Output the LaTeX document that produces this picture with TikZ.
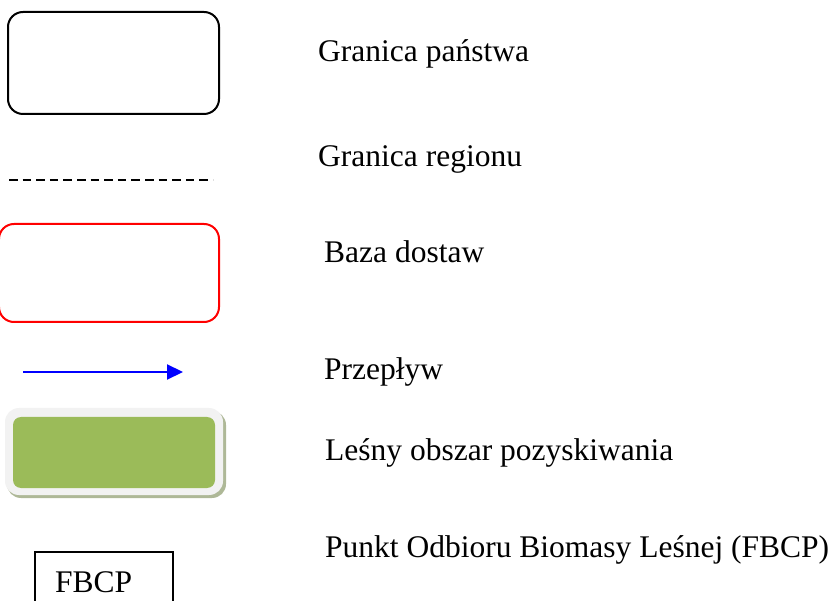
\documentclass[tikz,border=0pt]{standalone}
\usepackage{fontspec}
\setmainfont{Liberation Serif}
\usetikzlibrary{arrows.meta}
\definecolor{lesgreen}{HTML}{9BBB59}
\definecolor{lesedge}{HTML}{F2F2F2}
\definecolor{lesshadow}{HTML}{AEB897}
\begin{document}
\begin{tikzpicture}[x=1pt,y=-1pt,
  opis/.style={anchor=base west,inner sep=0pt,font=\fontsize{31.5}{36}\selectfont},
  ramka/.style={line width=2pt,rounded corners=15pt}]
\useasboundingbox (0,0) rectangle (838,601);
\clip (0,0) rectangle (838,601);
% granica panstwa
\draw[ramka] (8,12) rectangle (219,114);
\node[opis] (panstwo) at (318,62) {Granica państwa};
% granica regionu
\draw[line width=2pt,dash pattern=on 8.5pt off 5.1pt] (9,180) -- (213,180);
\node[opis] (region) at (318,167) {Granica regionu};
% baza dostaw
\draw[ramka,red] (-1,224) rectangle (219,322);
\node[opis] (baza) at (324,263) {Baza dostaw};
% przeplyw
\coordinate (start) at (23,372);
\coordinate (koniec) at (183,372);
\draw[-{Triangle[length=16pt,width=15pt]},blue,line width=2.2pt] (start) -- (koniec);
\node[opis] (przeplyw) at (324,380) {Przepływ};
% lesny obszar
\fill[lesshadow,rounded corners=14pt] (7,411) rectangle (226,498);
\fill[lesedge,rounded corners=14pt] (5,408) rectangle (223,495);
\fill[lesgreen,rounded corners=8pt] (13,417) rectangle (215,488);
\node[opis] (obszar) at (325,460) {Leśny obszar pozyskiwania};
% FBCP
\draw[line width=1.5pt] (35,552) rectangle (173,620);
\node[opis] (fbcp) at (55,592) {FBCP};
\node[opis] (punkt) at (325,557) {Punkt Odbioru Biomasy Leśnej (FBCP)};
\end{tikzpicture}
\end{document}
